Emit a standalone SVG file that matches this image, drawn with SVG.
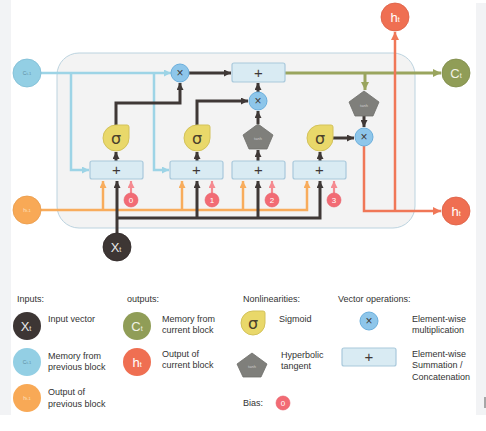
<svg xmlns="http://www.w3.org/2000/svg" width="486" height="431" viewBox="0 0 486 431">
<defs>
<style>
.t{font-family:"Liberation Sans",Arial,sans-serif;font-size:9px;fill:#333}
.ln{fill:none;stroke-linejoin:miter}
.dk{stroke:#3f3836;stroke-width:3}
.bl{stroke:#9dd4e6;stroke-width:2.5}
.gr{stroke:#9aa55e;stroke-width:3}
.rd{stroke:#f07757;stroke-width:2.5}
.or{stroke:#f8ac5c;stroke-width:2.5}
.pk{stroke:#f58a90;stroke-width:2.2}
.box{fill:#d9ebf3;stroke:#a9c9dc;stroke-width:1.2}
.mul{fill:#8ec6ea;stroke:#6aaedc;stroke-width:1}
.sig{fill:#e9d86a;stroke:#d3c25a;stroke-width:1}
.tanh{fill:#7f7f7b;stroke:#6f6f6b;stroke-width:0.8}
.op{font-family:"Liberation Sans",Arial,sans-serif;fill:#3f3836;text-anchor:middle}
.sg{font-family:"DejaVu Sans",sans-serif;font-size:16px;fill:#4a402c;text-anchor:middle}
.th{font-family:"Liberation Sans",Arial,sans-serif;font-size:4px;fill:#cfcfcf;text-anchor:middle}
.bias{fill:#f26b74;stroke:#e65c66;stroke-width:0.6}
.bt{font-family:"Liberation Sans",Arial,sans-serif;font-size:8px;fill:#fff;text-anchor:middle}
.cl{font-family:"Liberation Sans",Arial,sans-serif;text-anchor:middle}
</style>
<marker id="aDk" viewBox="0 0 8 8" refX="8" refY="4" markerWidth="7" markerHeight="7" markerUnits="userSpaceOnUse" orient="auto"><path d="M0,0 L8,4 L0,8 Z" fill="#3f3836"/></marker>
<marker id="aBl" viewBox="0 0 8 8" refX="8" refY="4" markerWidth="7" markerHeight="7" markerUnits="userSpaceOnUse" orient="auto"><path d="M0,0 L8,4 L0,8 Z" fill="#9dd4e6"/></marker>
<marker id="aGr" viewBox="0 0 8 8" refX="8" refY="4" markerWidth="8" markerHeight="8" markerUnits="userSpaceOnUse" orient="auto"><path d="M0,0 L8,4 L0,8 Z" fill="#9aa55e"/></marker>
<marker id="aRd" viewBox="0 0 8 8" refX="8" refY="4" markerWidth="8" markerHeight="8" markerUnits="userSpaceOnUse" orient="auto"><path d="M0,0 L8,4 L0,8 Z" fill="#f07757"/></marker>
<marker id="aOr" viewBox="0 0 8 8" refX="8" refY="4" markerWidth="7" markerHeight="7" markerUnits="userSpaceOnUse" orient="auto"><path d="M0,0 L8,4 L0,8 Z" fill="#f8ac5c"/></marker>
<marker id="aPk" viewBox="0 0 8 8" refX="8" refY="4" markerWidth="7" markerHeight="7" markerUnits="userSpaceOnUse" orient="auto"><path d="M0,0 L8,4 L0,8 Z" fill="#f58a90"/></marker>
</defs>
<rect x="0" y="0" width="486" height="431" fill="#fff"/>
<rect x="0" y="0" width="11" height="415" fill="#f2f3f5"/>
<rect x="476" y="3" width="10" height="412" fill="#f2f3f5"/>
<line x1="485" y1="397" x2="485" y2="408" stroke="#333" stroke-width="0.8"/>

<g id="cell">
<rect x="57" y="53" width="358" height="175" rx="22" fill="#f3f3f3" stroke="#bcd3df" stroke-width="1"/>
</g>

<g id="connectors">
<!-- orange h_{t-1} -->
<path class="ln or" d="M41,210 H307 V181" marker-end="url(#aOr)"/>
<path class="ln or" d="M103,210 V181" marker-end="url(#aOr)"/>
<path class="ln or" d="M182,210 V181" marker-end="url(#aOr)"/>
<path class="ln or" d="M243,210 V181" marker-end="url(#aOr)"/>
<!-- dark X_t -->
<path class="ln dk" d="M117,233 V181" marker-end="url(#aDk)"/>
<path class="ln dk" d="M117,218 H320 V181" marker-end="url(#aDk)"/>
<path class="ln dk" d="M197,218 V181" marker-end="url(#aDk)"/>
<path class="ln dk" d="M258,218 V181" marker-end="url(#aDk)"/>
<!-- bias -->
<path class="ln pk" d="M131,193 V181" marker-end="url(#aPk)"/>
<path class="ln pk" d="M212,193 V181" marker-end="url(#aPk)"/>
<path class="ln pk" d="M272,193 V181" marker-end="url(#aPk)"/>
<path class="ln pk" d="M334,193 V181" marker-end="url(#aPk)"/>
<!-- blue C_{t-1} -->
<path class="ln bl" d="M41,73 H171" marker-end="url(#aBl)"/>
<path class="ln bl" d="M71,73 V170 H89" marker-end="url(#aBl)"/>
<path class="ln bl" d="M154,73 V170 H169" marker-end="url(#aBl)"/>
<!-- box to nonlinearity -->
<path class="ln dk" d="M116,161 V152" marker-end="url(#aDk)"/>
<path class="ln dk" d="M197,161 V152" marker-end="url(#aDk)"/>
<path class="ln dk" d="M258,161 V150" marker-end="url(#aDk)"/>
<path class="ln dk" d="M320,161 V152" marker-end="url(#aDk)"/>
<!-- gates -->
<path class="ln dk" d="M116,125 V103 H180 V83" marker-end="url(#aDk)"/>
<path class="ln dk" d="M197,125 V101 H248" marker-end="url(#aDk)"/>
<path class="ln dk" d="M258,124 V111" marker-end="url(#aDk)"/>
<path class="ln dk" d="M258,92 V83" marker-end="url(#aDk)"/>
<path class="ln dk" d="M189,73 H231" marker-end="url(#aDk)"/>
<!-- green C_t -->
<path class="ln gr" d="M285,73 H441" marker-end="url(#aGr)"/>
<path class="ln gr" d="M365,73 V90" marker-end="url(#aGr)"/>
<!-- output -->
<path class="ln dk" d="M364,116 V127" marker-end="url(#aDk)"/>
<path class="ln dk" d="M333,138 H354" marker-end="url(#aDk)"/>
<path class="ln rd" d="M364,146 V211 H441" marker-end="url(#aRd)"/>
<path class="ln rd" d="M395,211 V32" marker-end="url(#aRd)"/>
</g>

<g id="box1"><rect class="box" x="90" y="161" width="53" height="18" rx="2"/><text class="op" x="116.5" y="175" font-size="15">+</text></g>
<g id="box2"><rect class="box" x="170" y="161" width="53" height="18" rx="2"/><text class="op" x="196.5" y="175" font-size="15">+</text></g>
<g id="box3"><rect class="box" x="232" y="161" width="53" height="18" rx="2"/><text class="op" x="258.5" y="175" font-size="15">+</text></g>
<g id="box4"><rect class="box" x="293" y="161" width="53" height="18" rx="2"/><text class="op" x="319.5" y="175" font-size="15">+</text></g>
<g id="boxTop"><rect class="box" x="232" y="63" width="53" height="19" rx="2"/><text class="op" x="258.5" y="78" font-size="15">+</text></g>

<g id="mul1"><circle class="mul" cx="180" cy="73" r="9"/><text class="op" x="180" y="77" font-size="12">×</text></g>
<g id="mul2"><circle class="mul" cx="258" cy="101" r="9"/><text class="op" x="258" y="105" font-size="12">×</text></g>
<g id="mul3"><circle class="mul" cx="364" cy="137" r="9"/><text class="op" x="364" y="141" font-size="12">×</text></g>

<g id="sig1"><path class="sig" d="M116,125 H127 Q129,125 129,127 V138 A13,13 0 1 1 116,125 Z"/><text class="sg" x="116" y="144">σ</text></g>
<g id="sig2"><path class="sig" d="M197,125 H208 Q210,125 210,127 V138 A13,13 0 1 1 197,125 Z"/><text class="sg" x="197" y="144">σ</text></g>
<g id="sig3"><path class="sig" d="M320,125 H331 Q333,125 333,127 V138 A13,13 0 1 1 320,125 Z"/><text class="sg" x="320" y="144">σ</text></g>

<g id="tanh1"><polygon class="tanh" points="258,124 273,135 267,149 249,149 243,135"/><text class="th" x="258" y="140">tanh</text></g>
<g id="tanh2"><polygon class="tanh" points="364,91 379,102 373,116 355,116 349,102"/><text class="th" x="364" y="107">tanh</text></g>

<g id="bias0"><circle class="bias" cx="131" cy="200" r="7"/><text class="bt" x="131" y="203">0</text></g>
<g id="bias1"><circle class="bias" cx="212" cy="200" r="7"/><text class="bt" x="212" y="203">1</text></g>
<g id="bias2"><circle class="bias" cx="272" cy="200" r="7"/><text class="bt" x="272" y="203">2</text></g>
<g id="bias3"><circle class="bias" cx="334" cy="200" r="7"/><text class="bt" x="334" y="203">3</text></g>

<g id="cprev"><circle cx="27" cy="73" r="14" fill="#93cfe4" stroke="#7dbdd4" stroke-width="0.8"/><text class="cl" x="27" y="75" font-size="5" fill="#5d8da3">C<tspan font-size="4">t-1</tspan></text></g>
<g id="hprev"><circle cx="27" cy="210" r="14" fill="#f8a956" stroke="#e99a4a" stroke-width="0.8"/><text class="cl" x="27" y="212" font-size="5" fill="#fde3c6">h<tspan font-size="4">t-1</tspan></text></g>
<g id="xt"><circle cx="117" cy="247" r="14" fill="#3d3634" stroke="#2d2624" stroke-width="0.8"/><text class="cl" x="116" y="252" font-size="13" fill="#e8e8e8">X<tspan font-size="7">t</tspan></text></g>
<g id="ct"><circle cx="456" cy="73" r="14" fill="#909d57" stroke="#7f8c4a" stroke-width="0.8"/><text class="cl" x="456" y="78" font-size="13" fill="#f2f2e6">C<tspan font-size="7">t</tspan></text></g>
<g id="htTop"><circle cx="395" cy="17" r="14" fill="#ef6f52" stroke="#dc6045" stroke-width="0.8"/><text class="cl" x="395" y="22" font-size="13" fill="#fff">h<tspan font-size="7">t</tspan></text></g>
<g id="htRight"><circle cx="456" cy="211" r="14" fill="#ef6f52" stroke="#dc6045" stroke-width="0.8"/><text class="cl" x="456" y="216" font-size="13" fill="#fff">h<tspan font-size="7">t</tspan></text></g>

<g id="legend">
<text class="t" x="17" y="302">Inputs:</text>
<circle cx="27" cy="326" r="14" fill="#3d3634"/><text class="cl" x="26" y="331" font-size="13" fill="#e8e8e8">X<tspan font-size="7">t</tspan></text>
<text class="t" x="48" y="322">Input vector</text>
<circle cx="27" cy="362" r="14" fill="#93cfe4"/><text class="cl" x="27" y="364" font-size="5" fill="#5d8da3">C<tspan font-size="4">t-1</tspan></text>
<text class="t" x="48" y="359">Memory from</text><text class="t" x="48" y="370">previous block</text>
<circle cx="27" cy="398" r="14" fill="#f8a956"/><text class="cl" x="27" y="400" font-size="5" fill="#fde3c6">h<tspan font-size="4">t-1</tspan></text>
<text class="t" x="48" y="395">Output of</text><text class="t" x="48" y="407">previous block</text>

<text class="t" x="127" y="302">outputs:</text>
<circle cx="137" cy="326" r="14" fill="#909d57"/><text class="cl" x="137" y="331" font-size="13" fill="#f2f2e6">C<tspan font-size="7">t</tspan></text>
<text class="t" x="162" y="322">Memory from</text><text class="t" x="162" y="333">current block</text>
<circle cx="137" cy="362" r="14" fill="#ef6f52"/><text class="cl" x="137" y="367" font-size="13" fill="#fff">h<tspan font-size="7">t</tspan></text>
<text class="t" x="162" y="357">Output of</text><text class="t" x="162" y="368">current block</text>

<text class="t" x="243" y="302">Nonlinearities:</text>
<path class="sig" d="M253,311 H263 Q265,311 265,313 V323 A12,12 0 1 1 253,311 Z"/><text class="sg" x="253" y="329">σ</text>
<text class="t" x="279" y="322">Sigmoid</text>
<polygon class="tanh" points="252,353 267,364 261,377 243,377 237,364"/><text class="th" x="252" y="368">tanh</text>
<text class="t" x="281" y="358">Hyperbolic</text><text class="t" x="281" y="369">tangent</text>

<text class="t" x="338" y="302">Vector operations:</text>
<circle class="mul" cx="369" cy="321" r="9"/><text class="op" x="369" y="325" font-size="12">×</text>
<text class="t" x="412" y="322">Element-wise</text><text class="t" x="412" y="333">multiplication</text>
<rect class="box" x="342" y="348" width="54" height="18" rx="2"/><text class="op" x="369" y="362" font-size="15">+</text>
<text class="t" x="412" y="357">Element-wise</text><text class="t" x="412" y="368">Summation /</text><text class="t" x="412" y="380">Concatenation</text>

<text class="t" x="243" y="406">Bias:</text>
<circle class="bias" cx="283" cy="403" r="7"/><text class="bt" x="283" y="406">0</text>
</g>
</svg>
